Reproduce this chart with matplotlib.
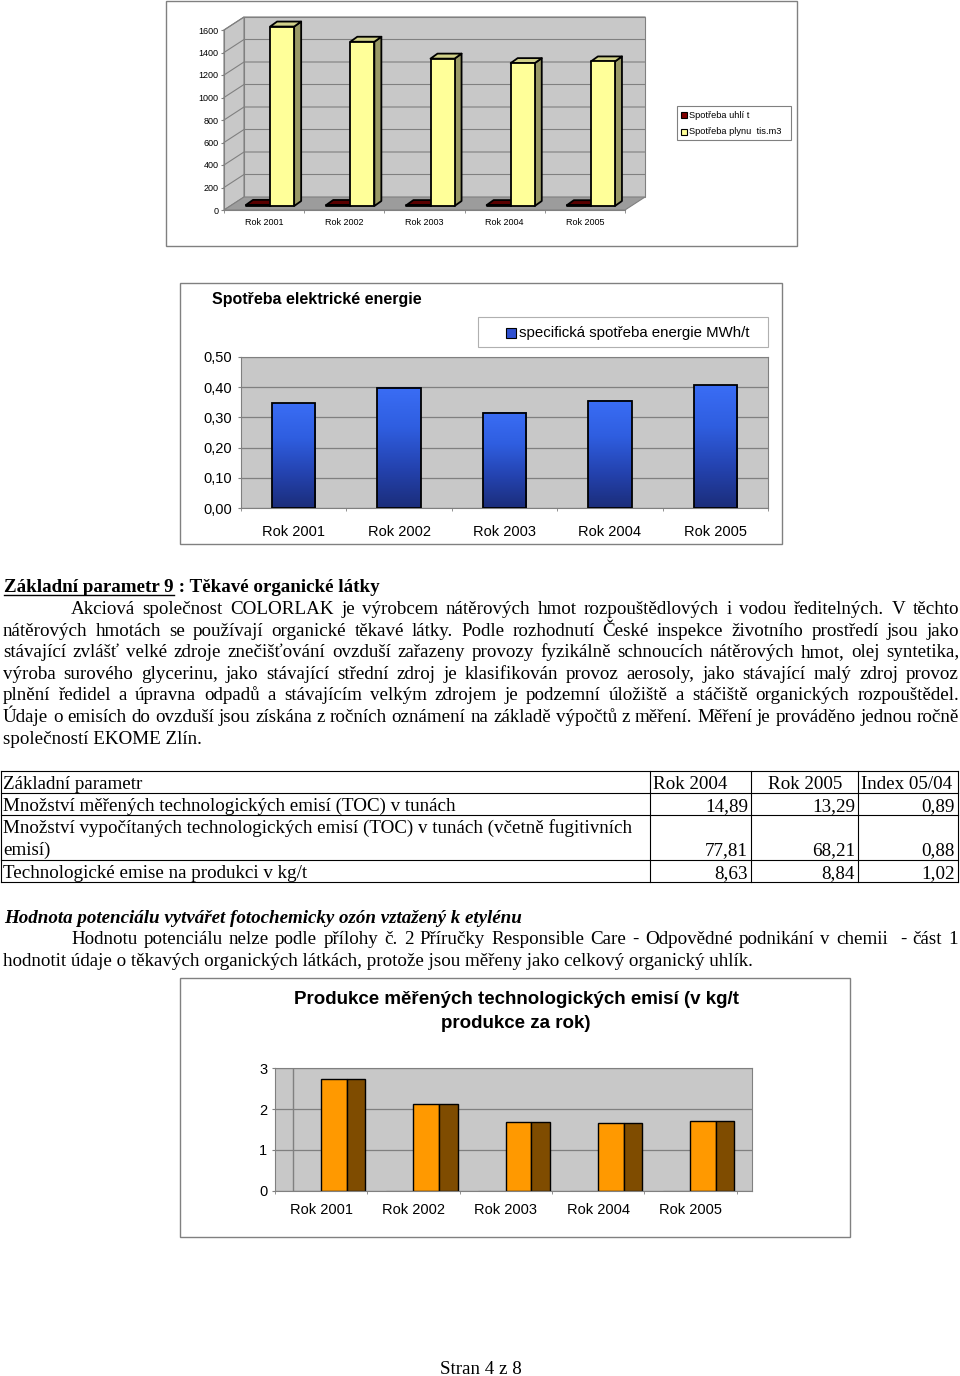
import matplotlib
matplotlib.use("Agg")
import matplotlib.pyplot as plt
import numpy as np
from matplotlib.patches import Rectangle, Polygon
from matplotlib.colors import LinearSegmentedColormap

W, H = 960, 1376
SANS = "Liberation Sans"
SERIF = "Liberation Serif"
SEDA = "#808080"

roky = ["Rok 2001", "Rok 2002", "Rok 2003", "Rok 2004", "Rok 2005"]

# graf 1 - spotreba uhli a plynu (3D sloupce)
uhli_t = [10, 9, 8, 8, 7]
plyn_tis_m3 = [1595, 1460, 1310, 1270, 1285]
g1_ticks = [0, 200, 400, 600, 800, 1000, 1200, 1400, 1600]
g1_legenda = ["Spotřeba uhlí t", "Spotřeba plynu  tis.m3"]

# graf 2 - elektricka energie
el_mwh_t = [0.347, 0.399, 0.316, 0.355, 0.406]
g2_ticks = [0.0, 0.1, 0.2, 0.3, 0.4, 0.5]
g2_nadpis = "Spotřeba elektrické energie"
g2_legenda = "specifická spotřeba energie MWh/t"

# graf 3 - emise na produkci
emise_1 = [0, 0, 0, 0, 0]
emise_2 = [2.75, 2.13, 1.68, 1.65, 1.71]
emise_3 = [2.75, 2.13, 1.68, 1.65, 1.71]
g3_ticks = [0, 1, 2, 3]
g3_nadpis = ["Produkce měřených technologických emisí (v kg/t", "produkce za rok)"]

# tabulka
tab_hlavicka = ["Základní parametr", "Rok 2004", "Rok 2005", "Index 05/04"]
tab_parametr = ["Množství měřených technologických emisí (TOC) v tunách",
                "Množství vypočítaných technologických emisí (TOC) v tunách (včetně fugitivních\nemisí)",
                "Technologické emise na produkci v kg/t"]
tab_2004 = [14.89, 77.81, 8.63]
tab_2005 = [13.29, 68.21, 8.84]
tab_index = [0.89, 0.88, 1.02]

nadpis_9a = "Základní parametr 9"
nadpis_9b = " : Těkavé organické látky"
odstavec_9 = [
    "Akciová společnost COLORLAK je výrobcem nátěrových hmot rozpouštědlových i vodou ředitelných. V těchto",
    "nátěrových hmotách se používají organické těkavé látky. Podle rozhodnutí České inspekce životního prostředí jsou jako",
    "stávající zvlášť velké zdroje znečišťování ovzduší zařazeny provozy fyzikálně schnoucích nátěrových hmot, olej syntetika,",
    "výroba surového glycerinu, jako stávající střední zdroj je klasifikován provoz aerosoly, jako stávající malý zdroj provoz",
    "plnění ředidel a úpravna odpadů a stávajícím velkým zdrojem je podzemní úložiště a stáčiště organických rozpouštědel.",
    "Údaje o emisích do ovzduší jsou získána z ročních oznámení na základě výpočtů z měření. Měření je prováděno jednou ročně",
    "společností EKOME Zlín.",
]
nadpis_ozon = "Hodnota potenciálu vytvářet fotochemicky ozón vztažený k etylénu"
odstavec_ozon = [
    "Hodnotu potenciálu nelze podle přílohy č. 2 Příručky Responsible Care - Odpovědné podnikání v chemii  - část 1",
    "hodnotit údaje o těkavých organických látkách, protože jsou měřeny jako celkový organický uhlík.",
]
zapati = "Stran 4 z 8"


def cz(v, d=2):
    return f"{v:.{d}f}".replace(".", ",")


def fig_rect(x0, y0, x1, y1):
    return [x0 / W, 1 - y1 / H, (x1 - x0) / W, (y1 - y0) / H]


plt.rcParams["font.family"] = [SANS, "DejaVu Sans"]
fig = plt.figure(figsize=(W / 100, H / 100), dpi=100)
page = fig.add_axes([0, 0, 1, 1])
page.set_xlim(0, W)
page.set_ylim(H, 0)
page.axis("off")
r = fig.canvas.get_renderer()

n = len(roky)
x = np.arange(n)

# ---------------- graf 1 ----------------
page.add_patch(Rectangle((166, 1), 631, 245, fill=False, ec=SEDA, lw=1))
ax1 = fig.add_axes(fig_rect(224, 30, 625, 210))
ymax1 = g1_ticks[-1]
ax1.set_xlim(0, n)
ax1.set_ylim(0, ymax1)
ax1.patch.set_visible(False)
px_x = 401 / n
px_y = 180 / ymax1


def off(dxp, dyp):
    return dxp / px_x, dyp / px_y


DX, DY = off(20, 13)
bx, by = off(6, 4)
ddx, ddy = off(7, 5)
stena = "#c8c8c8"
ax1.add_patch(Polygon([(DX, DY), (n + DX, DY), (n + DX, ymax1 + DY), (DX, ymax1 + DY)],
                      fc=stena, ec=SEDA, lw=0.8, clip_on=False, zorder=0))
ax1.add_patch(Polygon([(0, 0), (DX, DY), (DX, ymax1 + DY), (0, ymax1)],
                      fc=stena, ec=SEDA, lw=0.8, clip_on=False, zorder=0))
ax1.add_patch(Polygon([(0, 0), (n, 0), (n + DX, DY), (DX, DY)],
                      fc="#9c9c9c", ec=SEDA, lw=0.8, clip_on=False, zorder=0.5))
for v in g1_ticks[1:]:
    ax1.plot([0, DX, n + DX], [v, v + DY, v + DY], color=SEDA, lw=0.8, clip_on=False, zorder=0.6)


def sloupec3d(ax, x0, w, v, front, top, side):
    x0 = x0 + bx
    y0 = by
    kw = dict(ec="black", lw=1.3, clip_on=False, zorder=2, joinstyle="round")
    ax.add_patch(Polygon([(x0 + w, y0), (x0 + w + ddx, y0 + ddy), (x0 + w + ddx, y0 + v + ddy), (x0 + w, y0 + v)],
                         fc=side, **kw))
    ax.add_patch(Polygon([(x0, y0 + v), (x0 + w, y0 + v), (x0 + w + ddx, y0 + v + ddy), (x0 + ddx, y0 + v + ddy)],
                         fc=top, **kw))
    ax.add_patch(Rectangle((x0, y0), w, v, fc=front, **kw))


for i in range(n):
    sloupec3d(ax1, i + 0.2, 0.3, uhli_t[i], "#800000", "#5a0000", "#400000")
    sloupec3d(ax1, i + 0.5, 0.3, plyn_tis_m3[i], "#ffff99", "#d2d28a", "#999966")

for s in ["top", "right"]:
    ax1.spines[s].set_visible(False)
for s in ["left", "bottom"]:
    ax1.spines[s].set_color(SEDA)
ax1.set_yticks(g1_ticks)
ax1.set_xticks(x + 0.5)
ax1.set_xticklabels(roky)
ax1.set_xticks(np.arange(n + 1), minor=True)
ax1.tick_params(axis="y", length=2.5, pad=1.5, color=SEDA, labelsize=6.5)
ax1.tick_params(axis="x", which="major", length=0, pad=5.5, labelsize=6.5)
ax1.tick_params(axis="x", which="minor", length=2.5, color=SEDA)

page.add_patch(Rectangle((677, 106), 114, 34, fill=False, ec=SEDA, lw=0.8))
for k, (lab, fc) in enumerate(zip(g1_legenda, ["#800000", "#ffff99"])):
    yy = 115 + k * 16.7
    page.add_patch(Rectangle((681, yy - 3), 6, 6, fc=fc, ec="black", lw=0.8))
    page.text(689, yy, lab, va="center", ha="left", fontsize=6.7)

# ---------------- graf 2 ----------------
page.add_patch(Rectangle((180, 283), 602, 261, fill=False, ec=SEDA, lw=1))
page.text(212, 304, g2_nadpis, fontsize=11.5, fontweight="bold", va="baseline")
page.add_patch(Rectangle((478, 317), 290, 30, fill=False, ec="#b0b0b0", lw=0.8))
page.add_patch(Rectangle((506, 328), 10, 10, fc="#2f50d0", ec="black", lw=0.8))
page.text(519, 333, g2_legenda, fontsize=10.8, va="center")

ax2 = fig.add_axes(fig_rect(241, 357, 768, 508))
ax2.set_facecolor("#c8c8c8")
cm_modra = LinearSegmentedColormap.from_list("modra", ["#1b2d7a", "#2443b0", "#2f5ee0", "#3a6df5"])
grad = np.linspace(0, 1, 256).reshape(-1, 1)
bw = 0.41
for i, v in enumerate(el_mwh_t):
    ax2.imshow(grad, extent=(i - bw / 2, i + bw / 2, 0, v), origin="lower", cmap=cm_modra,
               aspect="auto", zorder=2, interpolation="bilinear")
    ax2.add_patch(Rectangle((i - bw / 2, 0), bw, v, fill=False, ec="black", lw=1.3, zorder=3))
ax2.set_xlim(-0.5, n - 0.5)
ax2.set_ylim(0, g2_ticks[-1])
ax2.set_yticks(g2_ticks)
ax2.set_yticklabels([cz(v) for v in g2_ticks])
ax2.set_xticks(x)
ax2.set_xticklabels(roky)
ax2.set_xticks(np.arange(n + 1) - 0.5, minor=True)
ax2.set_axisbelow(True)
ax2.yaxis.grid(True, color=SEDA, lw=0.9)
for s in ax2.spines.values():
    s.set_color(SEDA)
ax2.tick_params(axis="y", length=2.2, pad=4.5, color=SEDA, labelsize=10.5)
ax2.tick_params(axis="x", which="major", length=0, pad=12, labelsize=10.5)
ax2.tick_params(axis="x", which="minor", length=2.5, color=SEDA)

# ---------------- text ----------------
FS = 13.7


def radek(text, x0, x1, y, justify=True, **kw):
    if not justify:
        page.text(x0, y, text, va="baseline", fontfamily=SERIF, fontsize=FS, **kw)
        return
    slova = text.split(" ")
    objs = [page.text(0, y, s, va="baseline", fontfamily=SERIF, fontsize=FS, **kw) for s in slova]
    sirky = [o.get_window_extent(renderer=r).width for o in objs]
    mezera = (x1 - x0 - sum(sirky)) / max(len(slova) - 1, 1)
    xx = x0
    for o, s in zip(objs, sirky):
        o.set_x(xx)
        xx += s + mezera


t = page.text(4, 592, nadpis_9a, va="baseline", fontfamily=SERIF, fontsize=FS, fontweight="bold")
wa = t.get_window_extent(renderer=r).width
page.plot([4, 4 + wa], [594.5, 594.5], color="black", lw=1)
page.text(4 + wa, 592, nadpis_9b, va="baseline", fontfamily=SERIF, fontsize=FS, fontweight="bold")

for k, line in enumerate(odstavec_9):
    y = 614 + 21.6 * k
    x0 = 71 if k == 0 else 3
    radek(line, x0, 959, y, justify=(k < len(odstavec_9) - 1))

# tabulka
sl = [1, 650, 751, 858, 958]
radky_n = [1] + [len(p.split("\n")) for p in tab_parametr]
rh = 22.2
tops = [771]
for m in radky_n:
    tops.append(tops[-1] + rh * m)
for yy in tops:
    page.plot([sl[0], sl[-1]], [yy, yy], color="black", lw=0.8)
for xx in sl:
    page.plot([xx, xx], [tops[0], tops[-1]], color="black", lw=0.8)

hx = [3, 653, 768, 861]
for hxx, h in zip(hx, tab_hlavicka):
    page.text(hxx, tops[0] + 18, h, va="baseline", fontfamily=SERIF, fontsize=FS)
for j, p in enumerate(tab_parametr):
    casti = p.split("\n")
    for k, c in enumerate(casti):
        page.text(3, tops[j + 1] + 18 + 21.6 * k, c, va="baseline", fontfamily=SERIF, fontsize=FS)
    yb = tops[j + 1] + 18 + 21.6 * (len(casti) - 1)
    for c, vals in zip([1, 2, 3], [tab_2004, tab_2005, tab_index]):
        page.text(sl[c + 1] - 3, yb, cz(vals[j]), ha="right", va="baseline", fontfamily=SERIF, fontsize=FS)

page.text(4, 922.6, nadpis_ozon, va="baseline", fontfamily=SERIF, fontsize=FS,
          fontweight="bold", fontstyle="italic")
radek(odstavec_ozon[0], 71, 958, 944.2)
radek(odstavec_ozon[1], 3, 958, 965.8, justify=False)

page.text(481, 1374, zapati, ha="center", va="baseline", fontfamily=SERIF, fontsize=FS)

# ---------------- graf 3 ----------------
page.add_patch(Rectangle((180, 978), 670, 259, fill=False, ec=SEDA, lw=1))
for k, line in enumerate(g3_nadpis):
    page.text(516, 1004 + 23.5 * k, line, ha="center", va="baseline", fontsize=13.5, fontweight="bold")

ax3 = fig.add_axes(fig_rect(275, 1068.3, 752.3, 1190.7))
ax3.set_facecolor("#c8c8c8")
ax3.bar(x - 0.3, emise_1, 0.3, align="edge", color="#9999ff", edgecolor="#404040", lw=0.8, zorder=2)
ax3.bar(x, emise_2, 0.278, align="edge", color="#ff9900", edgecolor="black", lw=1, zorder=2)
ax3.bar(x + 0.278, emise_3, 0.2, align="edge", color="#7f4c00", edgecolor="black", lw=1, zorder=2)
ax3.axvline(x[0] - 0.3, color=SEDA, lw=1, zorder=1)
ax3.set_xlim(-0.5, n - 0.5 + 15.8 / 92.3)
ax3.set_ylim(0, g3_ticks[-1])
ax3.set_yticks(g3_ticks)
ax3.set_xticks(x)
ax3.set_xticklabels(roky)
ax3.set_xticks(np.arange(n + 1) - 0.5, minor=True)
ax3.set_axisbelow(True)
ax3.yaxis.grid(True, color=SEDA, lw=0.9)
for s in ax3.spines.values():
    s.set_color(SEDA)
ax3.tick_params(axis="y", length=2.2, pad=3.2, color=SEDA, labelsize=10.5)
ax3.tick_params(axis="x", which="major", length=0, pad=9, labelsize=10.5)
ax3.tick_params(axis="x", which="minor", length=2.5, color=SEDA)

fig.savefig("out.png", dpi=100)
